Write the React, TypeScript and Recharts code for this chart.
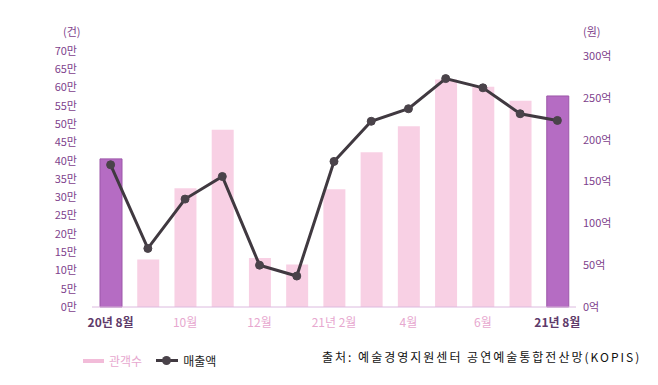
import { Bar, Cell, ComposedChart, Line, XAxis, YAxis } from "recharts";

const months = [
  "20년 8월", "9월", "10월", "11월", "12월", "21년 1월", "21년 2월",
  "3월", "4월", "5월", "6월", "7월", "21년 8월",
];
// 관객수 (만 건)
const audience = [40.5, 13, 32.5, 48.5, 13.4, 11.6, 32.2, 42.3, 49.4, 62.2, 60.2, 56.4, 57.7];
// 매출액 (억 원)
const sales = [170, 70, 129, 156, 50, 37, 174, 222, 237, 273, 262, 231, 223];
const leftTicks = [0, 5, 10, 15, 20, 25, 30, 35, 40, 45, 50, 55, 60, 65, 70];
const rightTicks = [0, 50, 100, 150, 200, 250, 300];
const highlighted = ["20년 8월", "21년 8월"];

const data = months.map((m, i) => ({ month: m, audience: audience[i], sales: sales[i] }));

const FONT = '"Noto Sans CJK KR", "Noto Sans", sans-serif';
const AXIS_PURPLE = "#7e3f8c";

function MonthTick(props: any) {
  const { x, y, payload } = props;
  const hi = highlighted.includes(payload.value);
  return (
    <text
      x={x}
      y={y + 12}
      textAnchor="middle"
      fontSize={12}
      fontWeight={hi ? 700 : 400}
      fill={hi ? "#5e3a6a" : "#e7a8cf"}
      fontFamily={FONT}
    >
      {payload.value}
    </text>
  );
}

export default function App() {
  return (
    <div style={{ position: "relative", width: 658, height: 385, background: "#fff", fontFamily: FONT }}>
      <style>{`body{margin:0}`}</style>
      <div style={{ position: "absolute", left: 63, top: 23, fontSize: 11, color: AXIS_PURPLE }}>(건)</div>
      <div style={{ position: "absolute", left: 583, top: 23, fontSize: 11, color: AXIS_PURPLE }}>(원)</div>
      <ComposedChart
        width={658}
        height={385}
        data={data}
        margin={{ top: 51, right: 0, bottom: 48, left: 0 }}
        barSize={22}
      >
        <XAxis
          dataKey="month"
          interval={1}
          tick={<MonthTick />}
          tickLine={false}
          axisLine={{ stroke: "#dcbadf" }}
          height={30}
        />
        <YAxis
          yAxisId="left"
          domain={[0, 70]}
          ticks={leftTicks}
          interval={0}
          width={92}
          tickFormatter={(v) => `${v}만`}
          tick={{ fill: AXIS_PURPLE, fontSize: 11, fontFamily: FONT }}
          tickLine={false}
          axisLine={false}
          tickSize={0}
          tickMargin={15}
        />
        <YAxis
          yAxisId="right"
          orientation="right"
          domain={[0, 306]}
          ticks={rightTicks}
          interval={0}
          width={82}
          tickFormatter={(v) => `${v}억`}
          tick={{ fill: AXIS_PURPLE, fontSize: 11, fontFamily: FONT }}
          tickLine={false}
          axisLine={false}
          tickSize={0}
          tickMargin={7}
        />
        <Bar yAxisId="left" dataKey="audience" isAnimationActive={false}>
          {data.map((d) => {
            const hi = highlighted.includes(d.month);
            return (
              <Cell
                key={d.month}
                fill={hi ? "#b56cc3" : "#f8d0e4"}
                stroke={hi ? "#9c56a9" : "none"}
              />
            );
          })}
        </Bar>
        <Line
          yAxisId="right"
          dataKey="sales"
          stroke="#403940"
          strokeWidth={3}
          dot={{ r: 4, fill: "#4a434a", stroke: "#4a434a", strokeWidth: 1 }}
          isAnimationActive={false}
        />
      </ComposedChart>
      <div style={{ position: "absolute", left: 83, top: 352, display: "flex", alignItems: "center", fontSize: 12 }}>
        <span style={{ display: "inline-block", width: 21, height: 4, background: "#f2bcd9", marginRight: 5 }} />
        <span style={{ color: "#e7a8cf" }}>관객수</span>
        <span style={{ position: "relative", display: "inline-block", width: 22, height: 3, background: "#403940", marginLeft: 14, marginRight: 5 }}>
          <span style={{ position: "absolute", left: 6, top: -3, width: 9, height: 9, borderRadius: 5, background: "#4a434a" }} />
        </span>
        <span style={{ color: "#222" }}>매출액</span>
      </div>
      <div style={{ position: "absolute", left: 322, top: 348, fontSize: 12, color: "#111", letterSpacing: 2 }}>
        출처: 예술경영지원센터 공연예술통합전산망(KOPIS)
      </div>
    </div>
  );
}
